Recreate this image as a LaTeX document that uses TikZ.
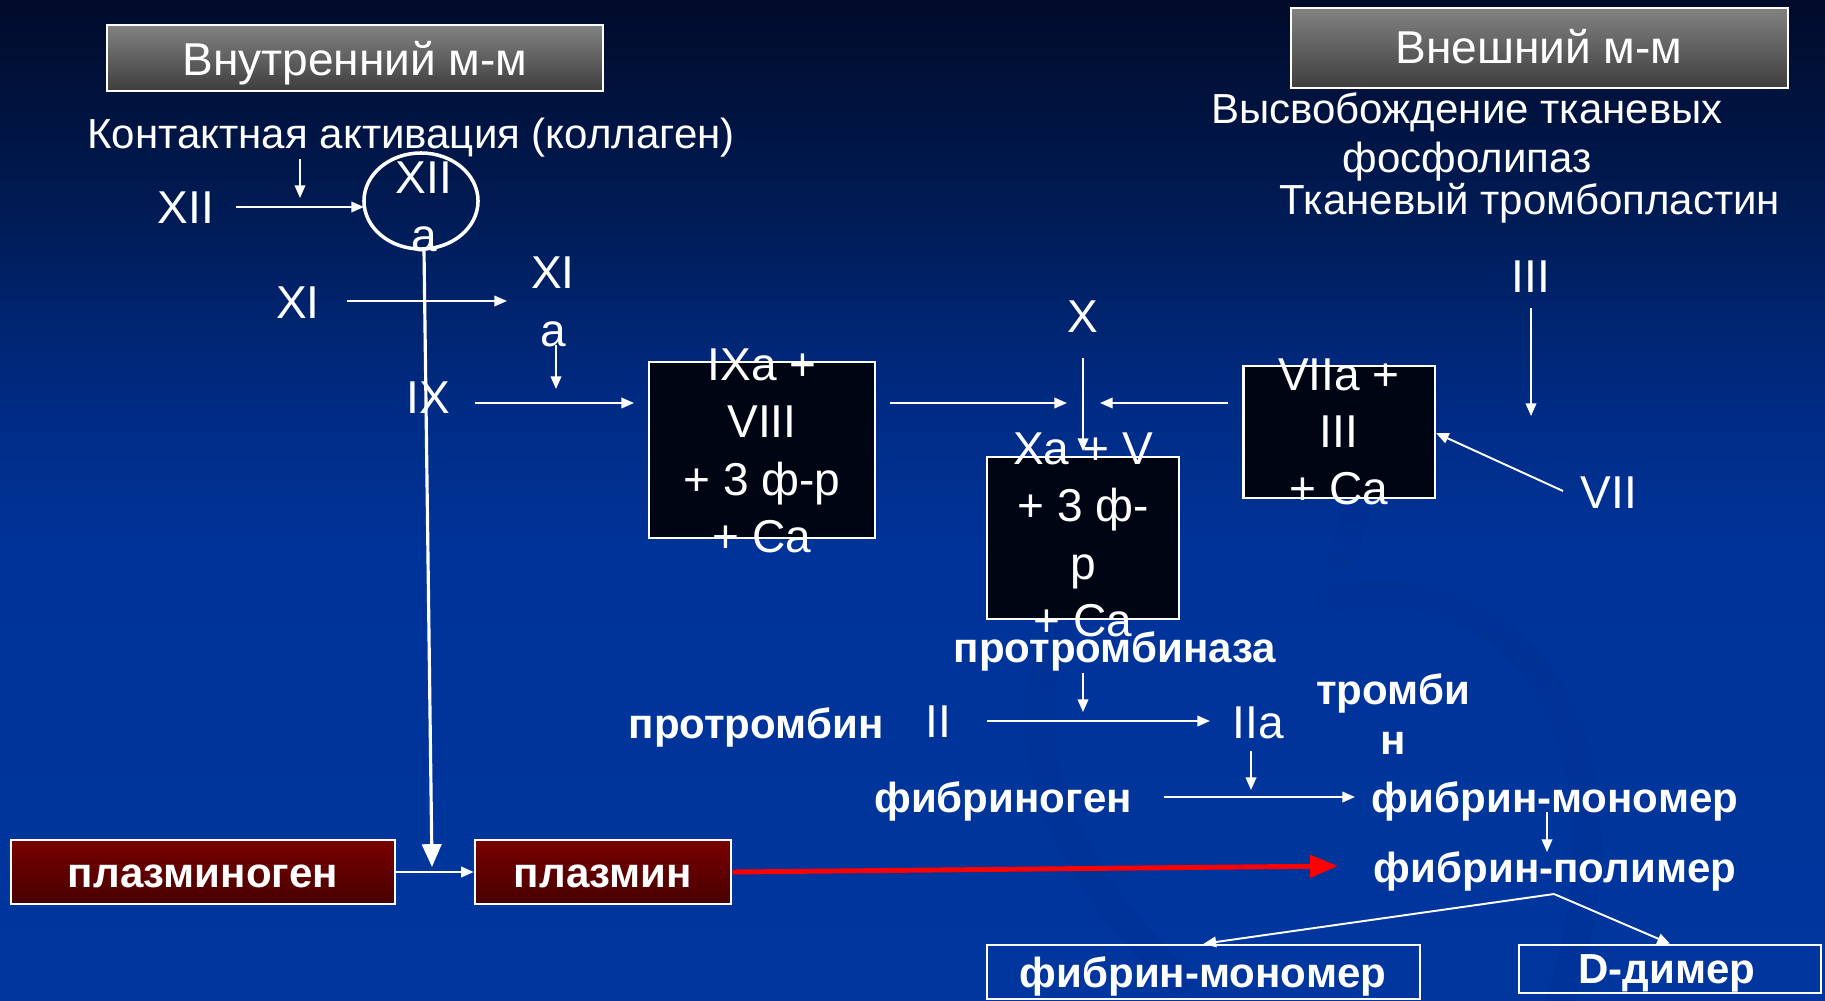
\documentclass[tikz,border=0pt]{standalone}
\usepackage{fontspec}
\setmainfont{Liberation Sans}
\usetikzlibrary{arrows.meta,shapes.geometric}
\definecolor{bgtop}{HTML}{010B2A}
\definecolor{bgup}{HTML}{001A52}
\definecolor{bgmidb}{HTML}{002B83}
\definecolor{bgmid}{HTML}{003399}
\definecolor{bgbot}{HTML}{00369E}
\definecolor{swirl}{HTML}{002A88}
\definecolor{boxblack}{HTML}{000514}
\definecolor{redtop}{HTML}{7A0000}
\definecolor{redbot}{HTML}{470000}
\definecolor{graytop}{HTML}{828282}
\definecolor{graybot}{HTML}{3E3E3E}
\definecolor{arrred}{HTML}{FF0000}
\pgfdeclareverticalshading{bgshade}{100bp}{color(0bp)=(bgbot); color(25bp)=(bgbot); color(47.5bp)=(bgmid); color(55bp)=(bgmidb); color(65bp)=(bgup); color(75bp)=(bgtop); color(100bp)=(bgtop)}
\newcommand\fbig{\fontsize{13.1}{16.3}\selectfont}
\newcommand\fmid{\fontsize{11.95}{14}\selectfont}
\begin{document}
\begin{tikzpicture}[x=0.01cm,y=-0.01cm,
  every node/.style={text=white, inner sep=0pt},
  lbl/.style={font=\fbig, anchor=base},
  lblm/.style={font=\fbig, align=center, anchor=center},
  dsc/.style={font=\fmid, anchor=base},
  bld/.style={font=\fmid\bfseries, anchor=base},
  hdrbox/.style={draw=white, line width=0.7pt, top color=graytop, bottom color=graybot, rectangle},
  blkbox/.style={draw=white, line width=0.6pt, fill=boxblack, rectangle},
  redbox/.style={draw=white, line width=0.7pt, top color=redtop, bottom color=redbot, rectangle},
  outbox/.style={draw=white, line width=0.7pt, rectangle},
  arr/.style={white, line width=0.55pt, -{Triangle[length=3.6pt,width=3pt]}},
  bigarr/.style={white, line width=0.9pt, -{Triangle[length=6.5pt,width=5.5pt]}},
  redarr/.style={arrred, line width=1.4pt, -{Triangle[length=8pt,width=6.3pt]}},
  swirlline/.style={swirl, line width=8pt, opacity=0.18, line cap=round}
]
\useasboundingbox (0,0) rectangle (1825,1000);
\shade[shading=bgshade] (0,0) rectangle (1825,1000);
% faint background swirls
\begin{scope}
\clip (0,0) rectangle (1825,1000);
\draw[swirlline] (1080,600) .. controls (1000,700) and (1040,850) .. (1180,980);
\draw[swirlline] (1330,600) .. controls (1500,560) and (1650,720) .. (1560,1000);
\draw[swirlline] (1340,560) .. controls (1380,480) and (1350,420) .. (1290,380);
\end{scope}

% headers
\node[hdrbox, minimum width=4.96cm, minimum height=0.66cm] (h1) at (355,58) {};
\node[lbl] (h1t) at (355,75) {Внутренний м-м};
\node[hdrbox, minimum width=4.97cm, minimum height=0.80cm] (h2) at (1539.5,48) {};
\node[lbl] (h2t) at (1539,64) {Внешний м-м};

% descriptions
\node[dsc] (contact) at (411,148) {Контактная активация (коллаген)};
\node[font=\fontsize{11.95}{13.9}\selectfont, align=center, anchor=center] (release) at (1467,137) {Высвобождение тканевых\\фосфолипаз};
\node[dsc] (tissue) at (1530,214) {Тканевый тромбопластин};

% intrinsic factors
\node[lbl] (xii) at (186,223) {XII};
\node[ellipse, draw=white, line width=1pt, minimum width=1.14cm, minimum height=0.96cm] (circ) at (421,201) {};
\node[lblm, font=\fontsize{13.1}{16.5}\selectfont] (xiia) at (424,207) {XII\\a};
\node[lbl] (xi) at (298,318) {XI};
\node[lblm, font=\fontsize{13.1}{16.5}\selectfont] (xia) at (553,302) {XI\\a};
\node[lbl] (ix) at (428,413) {IX};

\node[blkbox, minimum width=2.26cm, minimum height=1.76cm] (b9) at (762,450) {};
\node[lblm] (b9t) at (762,451) {IXa +\\VIII\\+ 3 ф-р\\+ Ca};

\node[lbl] (x) at (1083,332) {X};
\node[blkbox, minimum width=1.92cm, minimum height=1.62cm] (b10) at (1083,538) {};
\node[lblm] (b10t) at (1083,535) {Xa + V\\+ 3 ф-\\р\\+ Ca};

% extrinsic
\node[lbl] (iii) at (1531,292) {III};
\node[blkbox, minimum width=1.91cm, minimum height=1.32cm] (b7) at (1339,432) {};
\node[lblm] (b7t) at (1339,432) {VIIa +\\III\\+ Ca};
\node[lbl] (vii) at (1609,508) {VII};

% common path
\node[bld] (ptase) at (1115,662) {протромбиназа};
\node[bld] (prot) at (756,738) {протромбин};
\node[lbl] (ii) at (938,737) {II};
\node[lbl] (iia) at (1258,738) {IIa};
\node[font=\fontsize{11.95}{14.2}\selectfont\bfseries, align=center, anchor=center] (thr) at (1393,714) {тромби\\н};
\node[bld] (fbg) at (1003,812) {фибриноген};
\node[bld] (fmon) at (1555,812) {фибрин-мономер};
\node[bld] (fpol) at (1555,882) {фибрин-полимер};

% fibrinolysis
\node[redbox, minimum width=3.84cm, minimum height=0.64cm] (plg) at (203,872) {};
\node[bld] (plgt) at (203,887) {плазминоген};
\node[redbox, minimum width=2.56cm, minimum height=0.64cm] (pl) at (603,872) {};
\node[bld] (plt) at (603,887) {плазмин};

\node[outbox, minimum width=4.33cm, minimum height=0.54cm] (fm2) at (1203.5,972) {};
\node[bld] (fm2t) at (1203,987) {фибрин-мономер};
\node[outbox, minimum width=3.02cm, minimum height=0.48cm] (dd) at (1670,969) {};
\node[bld] (ddt) at (1667,983) {D-димер};

% connector end points
\coordinate (c1a) at (300,159); \coordinate (c1b) at (300,198);
\coordinate (c2a) at (236,207); \coordinate (c2b) at (364,207);
\coordinate (c3a) at (424,250); \coordinate (c3b) at (432,867);
\coordinate (c4a) at (347,301); \coordinate (c4b) at (507,301);
\coordinate (c5a) at (556,345); \coordinate (c5b) at (556,389);
\coordinate (c6a) at (475,403); \coordinate (c6b) at (634,403);
\coordinate (c7a) at (890,403); \coordinate (c7b) at (1067,403);
\coordinate (c8a) at (1228,403); \coordinate (c8b) at (1100,403);
\coordinate (c9a) at (1083,358); \coordinate (c9b) at (1083,451);
\coordinate (c10a) at (1531,308); \coordinate (c10b) at (1531,416);
\coordinate (c11a) at (1563,491); \coordinate (c11b) at (1436,433);
\coordinate (c12a) at (1083,673); \coordinate (c12b) at (1083,712);
\coordinate (c13a) at (987,721); \coordinate (c13b) at (1210,721);
\coordinate (c14a) at (1251,751); \coordinate (c14b) at (1251,790);
\coordinate (c15a) at (1164,797); \coordinate (c15b) at (1355,797);
\coordinate (c16a) at (1547,812); \coordinate (c16b) at (1547,852);
\coordinate (c17b) at (1338,866);
\coordinate (c19a) at (1554,894);

\draw[arr] (c1a) -- (c1b);
\draw[arr] (c2a) -- (c2b);
\draw[bigarr] (c3a) -- (c3b);
\draw[arr] (c4a) -- (c4b);
\draw[arr] (c5a) -- (c5b);
\draw[arr] (c6a) -- (c6b);
\draw[arr] (c7a) -- (c7b);
\draw[arr] (c8a) -- (c8b);
\draw[arr] (c9a) -- (c9b);
\draw[arr] (c10a) -- (c10b);
\draw[arr] (c11a) -- (c11b);
\draw[arr] (c12a) -- (c12b);
\draw[arr] (c13a) -- (c13b);
\draw[arr] (c14a) -- (c14b);
\draw[arr] (c15a) -- (c15b);
\draw[arr] (c16a) -- (c16b);
\draw[redarr] (pl.east) -- (c17b);
\draw[arr] (plg.east) -- (pl.west);
\draw[arr] (c19a) -- (fm2.north);
\draw[arr] (c19a) -- (dd.north);
\end{tikzpicture}
\end{document}
